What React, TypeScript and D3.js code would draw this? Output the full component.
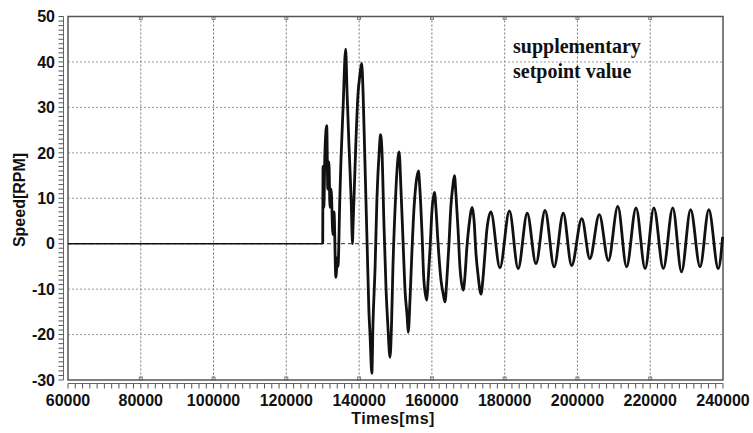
import React from "react";
import * as d3 from "d3";

const X_TICKS = [60000, 80000, 100000, 120000, 140000, 160000, 180000, 200000, 220000, 240000];
const Y_TICKS = [-30, -20, -10, 0, 10, 20, 30, 40, 50];
const ANNOTATION = ["supplementary", "setpoint value"];

const times = [
  60000, 130000, 130100, 130300, 130600, 131100, 131400, 131700, 132000, 132300, 132800, 133100,
  133600, 134100, 134200, 134700, 135000, 135600, 136300, 136700, 137200, 137800, 138200, 138300,
  138600, 139100, 139700, 140200, 140700, 141100, 141600, 142200, 142700, 143000, 143500, 143800,
  144400, 144900, 145500, 145900, 146300, 146800, 147400, 147900, 148500, 148900, 149300, 149900,
  150400, 151000, 151500, 152100, 152600, 153200, 153500, 154000, 154500, 155100, 155600, 156300,
  156700, 157300, 157800, 158600, 158900, 159500, 160000, 160700, 161100, 161700, 162500, 163100,
  163600, 164100, 164700, 165200, 165800, 166200, 166600, 167200, 167700, 168600, 169100, 169600,
  170200, 171100, 171600, 172100, 172700, 173500, 174000, 174600, 175100, 176200, 178700, 181300,
  183700, 186200, 188600, 191100, 193600, 196100, 198400, 201200, 203400, 206000, 208500, 211100,
  213500, 216100, 218600, 221000, 223600, 226200, 228600, 231100, 233700, 236100, 238700, 239900,
];
const speeds = [
  0, 0, 17, 8, 20, 26, 12, 18, 8, 12, 2, 7,
  -7.4, -3, -5, 10, 18, 30, 42.8, 33, 22, 10, 0, 3,
  10, 22, 33, 37, 39.7, 33, 18, 0, -15, -20, -28.5, -18,
  -5, 10, 20, 24, 20, 5, -10, -18, -25, -18, -5, 8,
  16, 20.2, 12, 0, -10, -16, -19.5, -12, -2, 8, 13, 16,
  12, 2, -8, -12.4, -9, -1, 7, 11.3, 8, 0, -8, -11,
  -12.8, -8, 0, 8, 13, 15, 11, 3, -5, -10.2, -7, -1,
  4, 8, 5, -2, -7, -11.1, -8, -2, 3, 7, -5.3, 7.2,
  -5.5, 6.7, -4.4, 7.3, -5.1, 6.7, -4.8, 5.5, -3.3, 6.4, -3.7, 8.2,
  -5.1, 7.9, -5.5, 7.9, -5.5, 7.9, -6.2, 7.5, -5.1, 7.5, -5.5, 1.5,
];

const W = 753;
const H = 433;
const L = 68;
const R = 723;
const T = 16.5;
const B = 380;

export default function App() {
  const x = d3.scaleLinear().domain([60000, 240000]).range([L, R]);
  const y = d3.scaleLinear().domain([-30, 50]).range([B, T]);
  const pts: [number, number][] = times.map((t, i) => [t, speeds[i]]);
  const flat = pts.slice(0, 2);
  const osc = pts.slice(1);
  const straight = d3
    .line<[number, number]>()
    .x((d) => x(d[0]))
    .y((d) => y(d[1]));
  const smooth = d3
    .line<[number, number]>()
    .x((d) => x(d[0]))
    .y((d) => y(d[1]))
    .curve(d3.curveMonotoneX);
  const xMinor = d3.range(60000, 240001, 2000);
  const yMinor = d3.range(-30, 51, 1);
  const sans = "'Liberation Sans', Arial, sans-serif";
  const serif = "'Liberation Serif', 'Times New Roman', serif";
  const rulerY = 383.5;
  const rulerX = 63.5;

  return (
    <svg width={W} height={H} style={{ position: "absolute", left: 0, top: 0, background: "#fff" }}>
      {/* grid */}
      {X_TICKS.slice(1, -1).map((t) => (
        <line key={"gx" + t} x1={x(t)} x2={x(t)} y1={T} y2={B} stroke="#777" strokeWidth={1} strokeDasharray="2,2" />
      ))}
      {Y_TICKS.slice(1, -1).map((v) => (
        <line
          key={"gy" + v}
          x1={L}
          x2={R}
          y1={y(v)}
          y2={y(v)}
          stroke={v === 0 ? "#333" : "#999"}
          strokeWidth={1}
          strokeDasharray={v === 0 ? "4,3" : "2,2"}
        />
      ))}
      {/* small markers at grid ends */}
      {X_TICKS.slice(1, -1).map((t) => (
        <g key={"mk" + t}>
          <rect x={x(t) - 1.5} y={T} width={3} height={3} fill="none" stroke="#666" strokeWidth={0.8} />
          <rect x={x(t) - 1.5} y={B - 3} width={3} height={3} fill="none" stroke="#666" strokeWidth={0.8} />
        </g>
      ))}
      {/* frame */}
      <rect x={L} y={T} width={R - L} height={B - T} fill="none" stroke="#555" strokeWidth={1.5} />
      {/* rulers */}
      <line x1={L} x2={R} y1={rulerY} y2={rulerY} stroke="#666" strokeWidth={1} />
      {xMinor.map((t) => (
        <line key={"xm" + t} x1={x(t)} x2={x(t)} y1={rulerY} y2={rulerY + 5} stroke="#555" strokeWidth={1} />
      ))}
      <line x1={rulerX} x2={rulerX} y1={T} y2={B} stroke="#666" strokeWidth={1} />
      {yMinor.map((v) => (
        <line key={"ym" + v} x1={rulerX - 5} x2={rulerX} y1={y(v)} y2={y(v)} stroke="#555" strokeWidth={1} />
      ))}
      {/* data */}
      <path d={straight(flat) || ""} fill="none" stroke="#111" strokeWidth={1.4} />
      <path d={smooth(osc) || ""} fill="none" stroke="#111" strokeWidth={2.8} strokeLinejoin="round" />
      {/* tick labels */}
      {X_TICKS.map((t) => (
        <text key={"xl" + t} x={x(t)} y={406} textAnchor="middle" fontFamily={sans} fontWeight="bold" fontSize={16} fill="#111">
          {t}
        </text>
      ))}
      {Y_TICKS.map((v) => (
        <text key={"yl" + v} x={55} y={y(v)} dy="0.36em" textAnchor="end" fontFamily={sans} fontWeight="bold" fontSize={16} fill="#111">
          {v}
        </text>
      ))}
      {/* axis titles */}
      <text x={393} y={424} textAnchor="middle" fontFamily={sans} fontWeight="bold" fontSize={16} letterSpacing={0.4} fill="#111">
        Times[ms]
      </text>
      <text
        transform="translate(25,200) rotate(-90)"
        textAnchor="middle"
        fontFamily={sans}
        fontWeight="bold"
        fontSize={16}
        fill="#111"
      >
        Speed[RPM]
      </text>
      {/* annotation */}
      {ANNOTATION.map((s, i) => (
        <text key={s} x={513} y={53 + i * 25} fontFamily={serif} fontWeight="bold" fontSize={20} fill="#111">
          {s}
        </text>
      ))}
    </svg>
  );
}
